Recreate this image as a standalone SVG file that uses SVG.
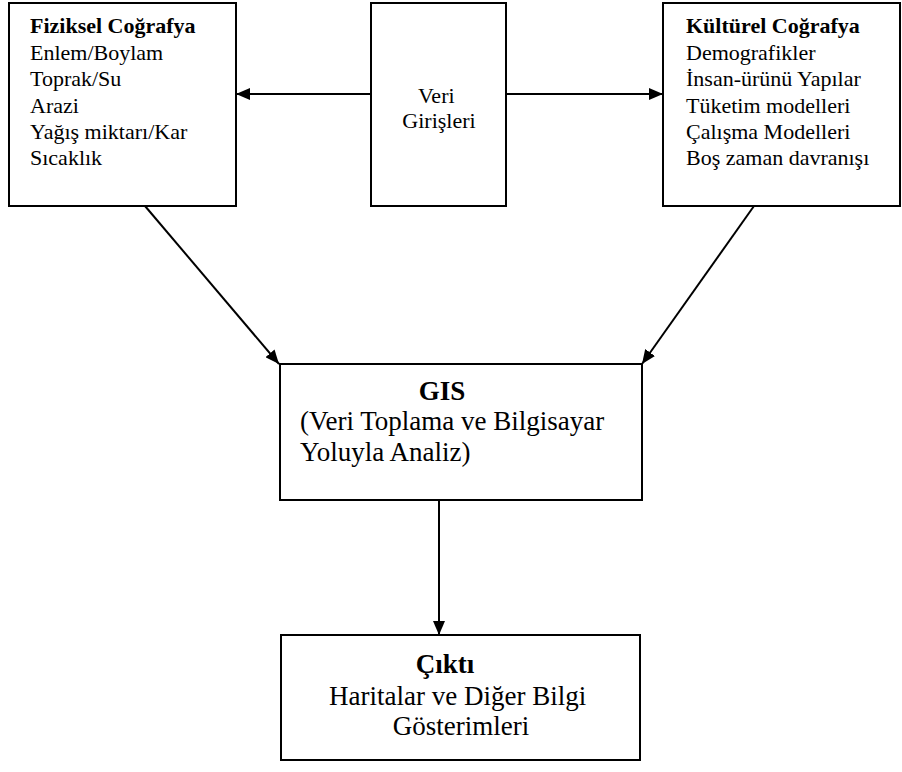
<svg xmlns="http://www.w3.org/2000/svg" width="902" height="772" viewBox="0 0 902 772" font-family="'Liberation Serif', 'Times New Roman', Times, serif">
  <style>
    .box { fill: #fff; stroke: #000; stroke-width: 2; }
    .edge { stroke: #000; stroke-width: 2; fill: none; }
    text { fill: #000; }
    .s { font-size: 22px; }
    .l { font-size: 27px; }
    .b { font-weight: bold; }
  </style>
  <defs>
    <marker id="head" viewBox="0 0 14 12" refX="14" refY="6" markerWidth="14" markerHeight="12" markerUnits="userSpaceOnUse" orient="auto">
      <path d="M0,0 L14,6 L0,12 Z" fill="#000"/>
    </marker>
  </defs>

  <g id="connectors">
    <line class="edge" x1="371" y1="94" x2="236" y2="94" marker-end="url(#head)"/>
    <line class="edge" x1="506" y1="94" x2="663" y2="94" marker-end="url(#head)"/>
    <line class="edge" x1="145" y1="206" x2="279" y2="364" marker-end="url(#head)"/>
    <line class="edge" x1="754" y1="206" x2="642" y2="364" marker-end="url(#head)"/>
    <line class="edge" x1="439" y1="500" x2="439" y2="635" marker-end="url(#head)"/>
  </g>

  <g id="fiziksel">
    <rect class="box" x="9" y="3" width="227" height="203"/>
    <text class="s">
      <tspan class="b" x="30" y="33">Fiziksel Coğrafya</tspan>
      <tspan x="30" y="60">Enlem/Boylam</tspan>
      <tspan x="30" y="86">Toprak/Su</tspan>
      <tspan x="30" y="113">Arazi</tspan>
      <tspan x="30" y="139">Yağış miktarı/Kar</tspan>
      <tspan x="30" y="165">Sıcaklık</tspan>
    </text>
  </g>

  <g id="veri">
    <rect class="box" x="371" y="3" width="135" height="203"/>
    <text class="s" text-anchor="middle">
      <tspan x="439" y="103">Veri</tspan>
      <tspan x="439" y="128">Girişleri</tspan>
    </text>
  </g>

  <g id="kulturel">
    <rect class="box" x="663" y="3" width="237" height="203"/>
    <text class="s">
      <tspan class="b" x="686" y="33">Kültürel Coğrafya</tspan>
      <tspan x="686" y="60">Demografikler</tspan>
      <tspan x="686" y="86">İnsan-ürünü Yapılar</tspan>
      <tspan x="686" y="113">Tüketim modelleri</tspan>
      <tspan x="686" y="139">Çalışma Modelleri</tspan>
      <tspan x="686" y="165">Boş zaman davranışı</tspan>
    </text>
  </g>

  <g id="gis">
    <rect class="box" x="280" y="364" width="362" height="136"/>
    <text class="l b" x="442" y="400" text-anchor="middle">GIS</text>
    <text class="l">
      <tspan x="300" y="430">(Veri Toplama ve Bilgisayar</tspan>
      <tspan x="300" y="461">Yoluyla Analiz)</tspan>
    </text>
  </g>

  <g id="cikti">
    <rect class="box" x="281" y="635" width="359" height="125"/>
    <text class="l b" x="445" y="673" text-anchor="middle">Çıktı</text>
    <text class="l" text-anchor="middle">
      <tspan x="461" y="705">Haritalar ve Diğer Bilgi</tspan>
      <tspan x="461" y="735">Gösterimleri</tspan>
    </text>
  </g>
</svg>
